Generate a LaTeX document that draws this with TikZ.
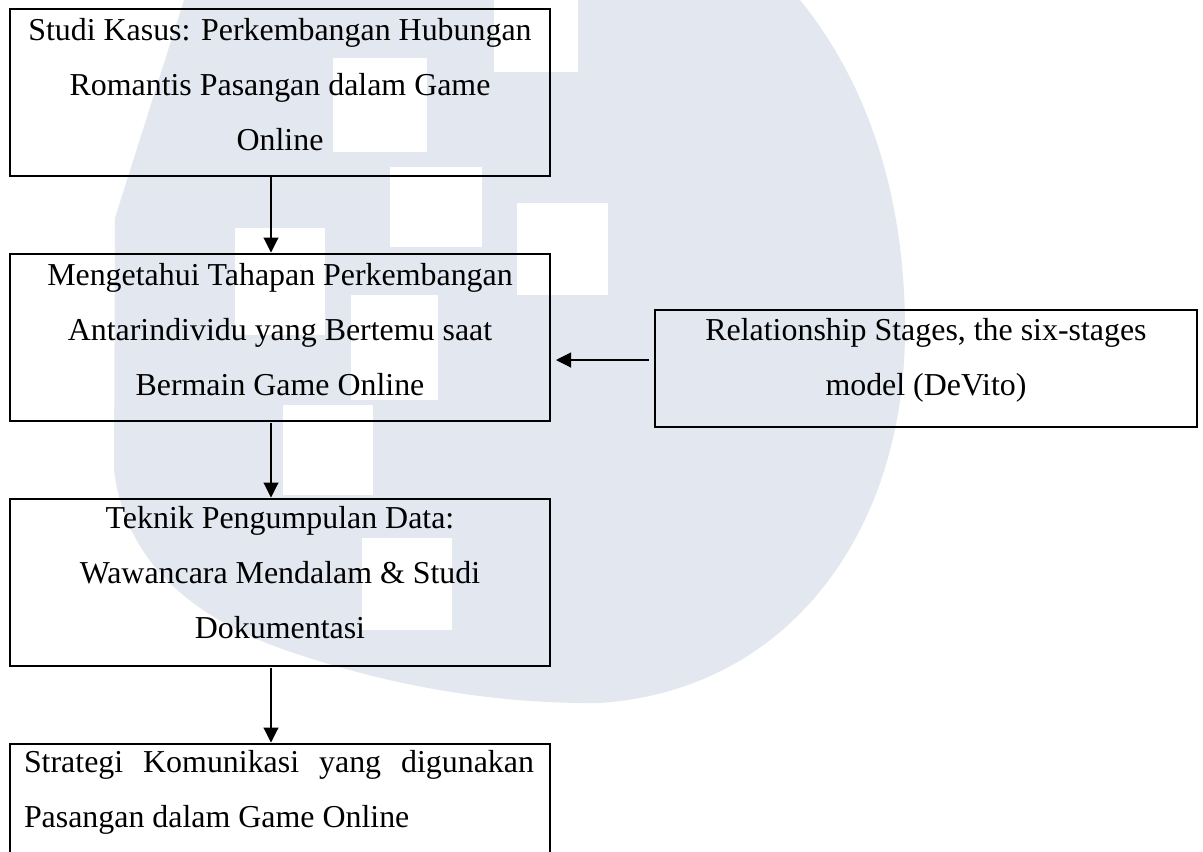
\documentclass[tikz,border=0pt]{standalone}
\usepackage{fontspec}
\setmainfont{Liberation Serif}
\usetikzlibrary{arrows.meta}
\definecolor{wm}{RGB}{227,231,239}
\tikzset{
  box/.style={draw=black, line width=1.8pt, minimum width=540pt, minimum height=167pt, anchor=north west, inner sep=0pt, outer sep=0pt},
  rbox/.style={draw=black, line width=1.8pt, minimum width=542pt, minimum height=117pt, anchor=north west, inner sep=0pt, outer sep=0pt},
  txt/.style={inner sep=0pt, outer sep=0pt},
  arr/.style={line width=1.1pt, -{Triangle[length=15pt,width=15pt]}},
}
\newcommand{\btext}[2]{\parbox[t]{#1}{\fontsize{31.9}{55}\selectfont #2}}
\begin{document}
\begin{tikzpicture}[x=1pt,y=-1pt]
\useasboundingbox (0,0) rectangle (1203,852);
\clip (0,0) rectangle (1203,852);
\fill[white] (0,0) rectangle (1203,852);
% watermark
\fill[wm] (184,0) -- (115,218) -- (114,470) .. controls (125,560) and (190,620) .. (300,655)
  .. controls (400,688) and (500,704) .. (600,703) .. controls (790,690) and (905,530) .. (905,330)
  .. controls (905,190) and (865,80) .. (800,0) -- cycle;
\fill[white] (494,-5) rectangle (578,72);
\fill[white] (333,58) rectangle (427,152);
\fill[white] (390,167) rectangle (482,247);
\fill[white] (517,203) rectangle (608,295);
\fill[white] (235,228) rectangle (325,335);
\fill[white] (351,295) rectangle (438,400);
\fill[white] (283,405) rectangle (373,495);
\fill[white] (362,538) rectangle (452,630);
% boxes
\node[box] (b1) at (10,9) {};
\node[box] (b2) at (10,254) {};
\node[box] (b3) at (10,499) {};
\node[box] (b4) at (10,744) {};
\node[rbox] (r) at (655,310) {};
% texts
\node[txt, anchor=base] (t1) at (280,40) {\btext{540pt}{\centering Studi Kasus: Perkembangan Hubungan\\Romantis Pasangan dalam Game\\Online}};
\node[txt, anchor=base] (t2) at (280,285) {\btext{540pt}{\centering Mengetahui Tahapan Perkembangan\\Antarindividu yang Bertemu saat\\Bermain Game Online}};
\node[txt, anchor=base] (t3) at (280,528.5) {\btext{540pt}{\centering Teknik Pengumpulan Data:\\Wawancara Mendalam \& Studi\\Dokumentasi}};
\node[txt, anchor=base west] (t4) at (24,772) {\btext{510pt}{\makebox[510pt][s]{Strategi Komunikasi yang digunakan}\\Pasangan dalam Game Online}};
\node[txt, anchor=base] (tr) at (926,340) {\btext{542pt}{\centering Relationship Stages, the six-stages\\model (DeVito)}};
% arrows
\draw[arr] ([xshift=-9pt]b1.south) -- ([xshift=-9pt,yshift=1.5pt]b2.north);
\draw[arr] ([xshift=-9pt,yshift=-1.5pt]b2.south) -- ([xshift=-9pt,yshift=1.5pt]b3.north);
\draw[arr] ([xshift=-9pt,yshift=-1.5pt]b3.south) -- ([xshift=-9pt,yshift=1.5pt]b4.north);
\draw[arr] ([xshift=-6pt,yshift=8.5pt]r.west) -- ([xshift=6pt,yshift=-22.5pt]b2.east);
\end{tikzpicture}
\end{document}
